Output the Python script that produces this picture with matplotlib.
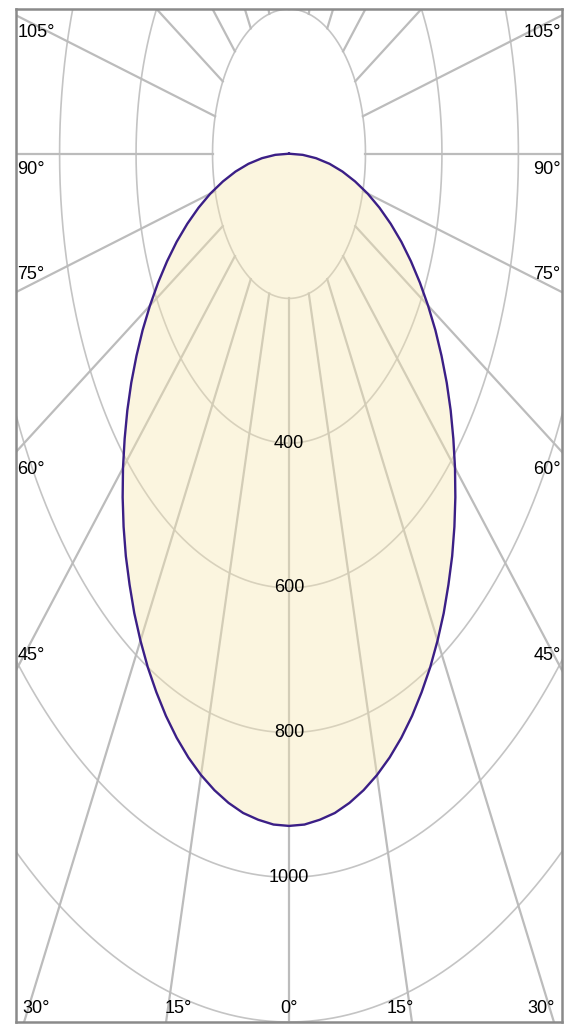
import numpy as np
import matplotlib.pyplot as plt

# luminous intensity (cd), 0..90 deg in 2.5 deg steps
angles = [0, 2.5, 5, 7.5, 10, 12.5, 15, 17.5, 20, 22.5, 25, 27.5, 30, 32.5, 35, 37.5,
          40, 42.5, 45, 47.5, 50, 52.5, 55, 57.5, 60, 62.5, 65, 67.5, 70, 72.5, 75,
          77.5, 80, 82.5, 85, 87.5, 90]
intensity = [929, 928, 924, 919, 911, 901, 889, 875, 859, 841, 821, 800, 777, 753, 727, 701,
             673, 644, 614, 583, 552, 520, 487, 454, 420, 386, 352, 318, 283, 248, 213,
             177, 142, 107, 71, 36, 0]

rings = [200, 400, 600, 800, 1000, 1200]
ring_labels = ['400', '600', '800', '1000']
spokes = list(range(-180, 181, 15))

side_labels = ['105°', '90°', '75°', '60°', '45°']
side_label_y = [167, -22, -167, -437, -693]
bottom_labels = ['30°', '15°', '0°', '15°', '30°']
bottom_label_x = [-661, -290, 0, 290, 659]

font = ['Liberation Sans', 'DejaVu Sans']
fs = 13

fig = plt.figure(figsize=(5.71, 10.25), dpi=100)
ax = fig.add_axes([16 / 571, 1 - 1022 / 1025, 546 / 571, 1013 / 1025])
ax.set_xlim(-714, 714)
ax.set_ylim(-1200, 200)

# rings
t = np.linspace(0, 2 * np.pi, 721)
for r in rings:
    ax.plot(r * np.sin(t), r * np.cos(t), color='#c4c4c4', lw=1.2, zorder=1)

# spokes start at the first ring
for a in spokes:
    th = np.radians(a)
    ax.plot([200 * np.sin(th), 2000 * np.sin(th)], [-200 * np.cos(th), -2000 * np.cos(th)],
            color='#bcbcbc', lw=1.6, zorder=1)

# intensity curve, mirrored for the other side
th = np.radians(np.array([-a for a in angles[::-1]] + angles[1:]))
I = np.array(intensity[::-1] + intensity[1:])
x = I * np.sin(th)
y = -I * np.cos(th)
ax.fill(x, y, color='#f7e7b0', alpha=0.4, lw=0, zorder=2)
ax.plot(x, y, color='#3b1f86', lw=1.7, zorder=3)

for r, lab in zip(rings[1:5], ring_labels):
    ax.text(0, -r, lab, ha='center', va='center', fontsize=fs, family=font, zorder=4)

for lab, yy in zip(side_labels, side_label_y):
    ax.text(-711, yy, lab, ha='left', va='center', fontsize=fs, family=font, zorder=4)
    ax.text(711, yy, lab, ha='right', va='center', fontsize=fs, family=font, zorder=4)

for lab, xx in zip(bottom_labels, bottom_label_x):
    ax.text(xx, -1182, lab, ha='center', va='center', fontsize=fs, family=font, zorder=4)

ax.set_xticks([])
ax.set_yticks([])
for s in ax.spines.values():
    s.set_color('#8a8a8a')
    s.set_linewidth(1.8)

fig.savefig('out.png', dpi=100)
